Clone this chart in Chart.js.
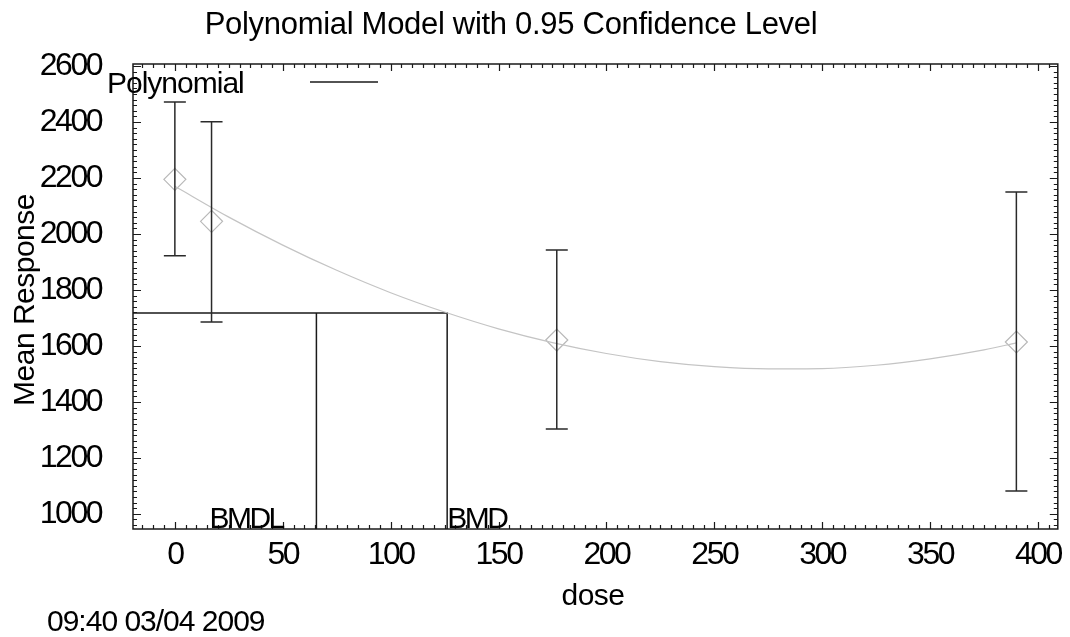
<!DOCTYPE html>
<html>
<head>
<meta charset="utf-8">
<script src="https://cdn.jsdelivr.net/npm/chart.js@4.4.1/dist/chart.umd.min.js"></script>
<style>
    html, body { margin: 0; padding: 0; background: #fff; }
    #wrap { width: 1070px; height: 637px; position: relative; }
</style>
</head>
<body>
<div id="wrap"><canvas id="bmdChart"></canvas></div>
<script>
// dose groups: mean response and 95% limits
const doses = [0, 17, 177, 390];
const means = [2195, 2045, 1621, 1614];
const upper = [2471, 2401, 1943, 2150];
const lower = [1922, 1685, 1303, 1082];

// fitted polynomial
const curveX = [0, 25, 50, 75, 100, 125, 150, 175, 200, 225, 250, 275, 300, 325, 350, 375, 390];
const curveY = [2170, 2060, 1960, 1870, 1790, 1721, 1661, 1612, 1573, 1544, 1526, 1518, 1519, 1531, 1554, 1586, 1611];

// benchmark dose
const bmr = 1718;
const bmd = 126.2;
const bmdl = 65.6;
const bmdLabels = ['BMDL', 'BMD'];
const bmdLabelX = [16, 126.2];

// axes
const xMin = -19.4, xMax = 409.2, xStep = 50, xMinor = 5;
const yMin = 946, yMax = 2607, yStep = 200, yMinor = 20;

const titleText = 'Polynomial Model with 0.95 Confidence Level';
const legendText = 'Polynomial';
const xTitle = 'dose';
const yTitle = 'Mean Response';
const stampText = '09:40 03/04 2009';

const FONT = "'Liberation Sans', Arial, sans-serif";
const INK = '#1a1a1a';

// 误差棒 + 文字 + 内向刻度
const decorPlugin = {
    id: 'decor',
    beforeDraw(chart) {
        chart.ctx.letterSpacing = '-2.5px';
    },
    afterDatasetsDraw(chart) {
        const ctx = chart.ctx;
        const xs = chart.scales.x, ys = chart.scales.y;
        ctx.save();
        ctx.strokeStyle = '#2a2a2a';
        ctx.lineWidth = 1.5;
        doses.forEach((d, i) => {
            const px = xs.getPixelForValue(d);
            const top = ys.getPixelForValue(upper[i]);
            const bot = ys.getPixelForValue(lower[i]);
            ctx.beginPath();
            ctx.moveTo(px, top); ctx.lineTo(px, bot);
            ctx.moveTo(px - 11, top); ctx.lineTo(px + 11, top);
            ctx.moveTo(px - 11, bot); ctx.lineTo(px + 11, bot);
            ctx.stroke();
        });
        ctx.restore();
    },
    afterDraw(chart) {
        const ctx = chart.ctx;
        const a = chart.chartArea;
        const xs = chart.scales.x, ys = chart.scales.y;
        ctx.save();

        // frame
        ctx.strokeStyle = INK;
        ctx.lineWidth = 1.5;
        ctx.strokeRect(a.left, a.top, a.right - a.left, a.bottom - a.top);

        // inward ticks on all four sides
        ctx.lineWidth = 1.2;
        ctx.beginPath();
        for (let v = Math.ceil(xMin / xMinor) * xMinor; v <= xMax; v += xMinor) {
            const px = Math.round(xs.getPixelForValue(v)) + 0.5;
            const len = (v % xStep === 0) ? 7 : 4;
            ctx.moveTo(px, a.bottom); ctx.lineTo(px, a.bottom - len);
            ctx.moveTo(px, a.top); ctx.lineTo(px, a.top + len);
        }
        for (let v = Math.ceil(yMin / yMinor) * yMinor; v <= yMax; v += yMinor) {
            const py = Math.round(ys.getPixelForValue(v)) + 0.5;
            const len = (v % yStep === 0) ? 8 : 4;
            ctx.moveTo(a.left, py); ctx.lineTo(a.left + len, py);
            ctx.moveTo(a.right, py); ctx.lineTo(a.right - len, py);
        }
        ctx.stroke();

        ctx.fillStyle = '#000';
        ctx.letterSpacing = '-0.3px';
        ctx.textBaseline = 'alphabetic';

        // title
        ctx.font = '31px ' + FONT;
        ctx.textAlign = 'center';
        ctx.fillText(titleText, 511, 34);

        // legend
        ctx.font = '30px ' + FONT;
        ctx.letterSpacing = '-1px';
        ctx.textAlign = 'left';
        ctx.fillText(legendText, 107, 93);
        ctx.beginPath();
        ctx.lineWidth = 1.5;
        ctx.moveTo(310, 82); ctx.lineTo(378, 82);
        ctx.stroke();

        // BMDL / BMD labels sitting on the x axis
        ctx.font = '30px ' + FONT;
        ctx.letterSpacing = '-2.5px';
        bmdLabels.forEach((t, i) => {
            ctx.fillText(t, xs.getPixelForValue(bmdLabelX[i]), a.bottom - 1);
        });
        ctx.letterSpacing = '-0.5px';

        // axis titles
        ctx.font = '30px ' + FONT;
        ctx.textAlign = 'center';
        ctx.fillText(xTitle, 593, 605);
        ctx.save();
        ctx.translate(34, 300);
        ctx.rotate(-Math.PI / 2);
        ctx.fillText(yTitle, 0, 0);
        ctx.restore();

        // time stamp
        ctx.textAlign = 'left';
        ctx.letterSpacing = '-1px';
        ctx.fillText(stampText, 47, 631);
        ctx.restore();
    }
};

const tickFont = { family: FONT, size: 32 };

const ctx = document.getElementById('bmdChart').getContext('2d');
const chart = new Chart(ctx, {
    type: 'scatter',
    data: {
        datasets: [{
            type: 'line',
            label: 'fit',
            data: curveX.map((x, i) => ({ x: x, y: curveY[i] })),
            borderColor: '#c4c4c4',
            borderWidth: 1.2,
            pointRadius: 0,
            cubicInterpolationMode: 'monotone',
            fill: false
        }, {
            label: 'mean',
            data: doses.map((d, i) => ({ x: d, y: means[i] })),
            pointStyle: 'rectRot',
            pointRadius: 11,
            borderColor: '#b8b8b8',
            backgroundColor: 'rgba(255,255,255,0)',
            borderWidth: 1.2
        }, {
            type: 'line',
            label: 'bmd',
            data: [{ x: xMin, y: bmr }, { x: bmd, y: bmr }, { x: bmd, y: yMin }],
            borderColor: INK,
            borderWidth: 1.5,
            pointRadius: 0,
            tension: 0,
            fill: false
        }, {
            type: 'line',
            label: 'bmdl',
            data: [{ x: bmdl, y: yMin }, { x: bmdl, y: bmr }],
            borderColor: INK,
            borderWidth: 1.5,
            pointRadius: 0,
            tension: 0,
            fill: false
        }]
    },
    options: {
        responsive: true,
        maintainAspectRatio: false,
        animation: false,
        layout: { padding: { top: 64, right: 10, left: 0, bottom: 0 } },
        plugins: {
            legend: { display: false },
            tooltip: { enabled: false },
            title: { display: false }
        },
        scales: {
            x: {
                type: 'linear',
                min: xMin,
                max: xMax,
                afterFit: s => {
                    s.height = 108;
                    s.paddingLeft = 0;
                    s.paddingRight = 0;
                },
                grid: { display: false, drawTicks: false },
                border: { display: false },
                ticks: {
                    stepSize: xStep,
                    includeBounds: false,
                    padding: 7,
                    color: '#000',
                    font: tickFont,
                    callback: v => String(v)
                }
            },
            y: {
                type: 'linear',
                min: yMin,
                max: yMax,
                afterFit: s => {
                    s.width = 133;
                    s.paddingTop = 0;
                    s.paddingBottom = 0;
                },
                grid: { display: false, drawTicks: false },
                border: { display: false },
                ticks: {
                    stepSize: yStep,
                    includeBounds: false,
                    padding: 32,
                    color: '#000',
                    font: tickFont,
                    callback: v => String(v)
                }
            }
        }
    },
    plugins: [decorPlugin]
});
</script>
</body>
</html>
